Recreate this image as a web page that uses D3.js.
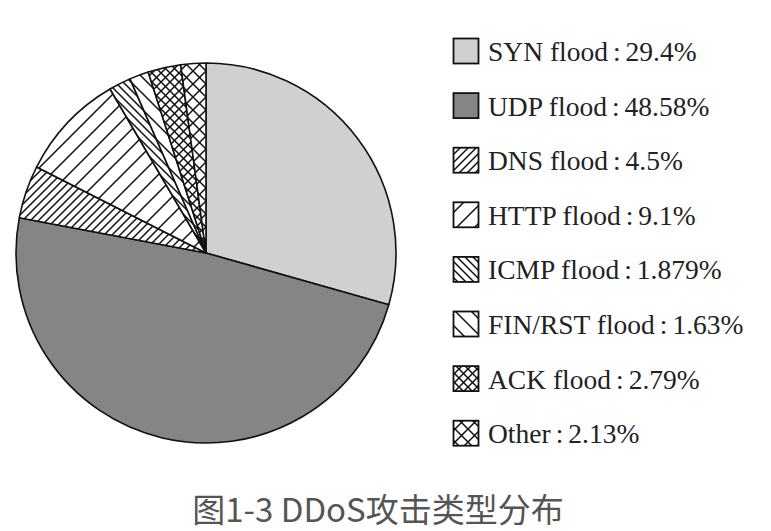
<!DOCTYPE html>
<html><head><meta charset="utf-8">
<script src="https://cdn.jsdelivr.net/npm/d3@7"></script>
<style>body{margin:0;background:#fff}svg{display:block}
.leg text{font-family:"Liberation Serif","Times New Roman",serif;font-size:27.5px;fill:#222}
.cap{font-family:"Noto Sans CJK SC","Noto Sans",sans-serif;font-size:33px;fill:#555}
</style>
</head><body>
<svg id="chart" width="771" height="531"></svg>
<script>
const categories = ["SYN flood","UDP flood","DNS flood","HTTP flood","ICMP flood","FIN/RST flood","ACK flood","Other"];
const values = [29.4, 48.58, 4.5, 9.1, 1.879, 1.63, 2.79, 2.13];
const valueLabels = ["29.4%","48.58%","4.5%","9.1%","1.879%","1.63%","2.79%","2.13%"];
const fills = ["#d0d0d0","#858585","url(#pDNS)","url(#pHTTP)","url(#pICMP)","url(#pFIN)","url(#pACK)","url(#pOther)"];
const caption = "图1-3 DDoS攻击类型分布";

const svg = d3.select("#chart");
const defs = svg.append("defs");
function hatch(id, size, dirs, sw){
  const p = defs.append("pattern").attr("id",id).attr("patternUnits","userSpaceOnUse")
    .attr("width",size).attr("height",size);
  p.append("rect").attr("width",size).attr("height",size).attr("fill","#fff");
  dirs.forEach(d=>{
    if(d==="/"){
      p.append("path").attr("d",`M0,${size} L${size},0 M${-size/2},${size/2} L${size/2},${-size/2} M${size/2},${size*1.5} L${size*1.5},${size/2}`)
       .attr("stroke","#111").attr("stroke-width",sw);
    } else {
      p.append("path").attr("d",`M0,0 L${size},${size} M${-size/2},${size/2} L${size/2},${size*1.5} M${size/2},${-size/2} L${size*1.5},${size/2}`)
       .attr("stroke","#111").attr("stroke-width",sw);
    }
  });
}
hatch("pDNS", 8, ["/"], 1.5);
hatch("pHTTP", 18, ["/"], 1.5);
hatch("pICMP", 8, ["\\"], 1.5);
hatch("pFIN", 16, ["\\"], 1.5);
hatch("pACK", 9, ["/","\\"], 1.5);
hatch("pOther", 13, ["/","\\"], 1.5);

const cx = 206, cy = 253, r = 190;
const pie = d3.pie().sort(null).value(d=>d)(values);
const arc = d3.arc().innerRadius(0).outerRadius(r);
const g = svg.append("g").attr("transform",`translate(${cx},${cy})`);
g.selectAll("path").data(pie).join("path")
  .attr("d",arc).attr("fill",(d,i)=>fills[i])
  .attr("stroke","#111").attr("stroke-width",1.6).attr("stroke-linejoin","round");

const leg = svg.append("g").attr("class","leg");
const y0 = 50.5, dy = 54.6;
categories.forEach((c,i)=>{
  const y = y0 + i*dy;
  leg.append("rect").attr("x",453.5).attr("y",y-12).attr("width",25).attr("height",25)
    .attr("fill",fills[i]).attr("stroke","#111").attr("stroke-width",1.8);
  const t = leg.append("text").attr("x",488).attr("y",y+10.5);
  t.append("tspan").text(c);
  t.append("tspan").attr("dx",5).text(":");
  t.append("tspan").attr("dx",5).text(valueLabels[i]);
});

svg.append("text").attr("class","cap").attr("x",378).attr("y",522).attr("text-anchor","middle").text(caption);
</script>
</body></html>
